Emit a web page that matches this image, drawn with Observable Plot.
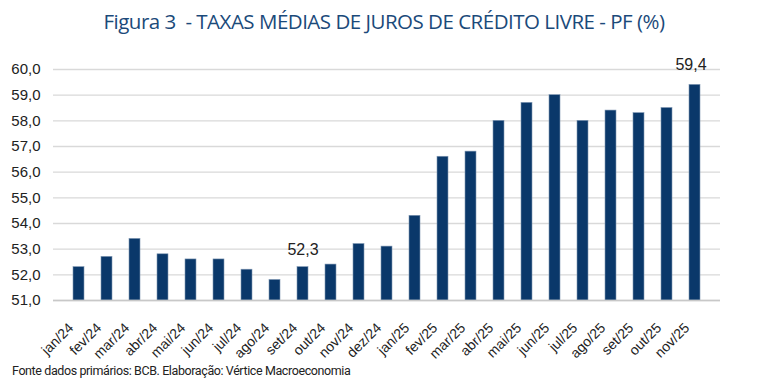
<!DOCTYPE html>
<html>
<head>
<meta charset="utf-8">
<script src="https://cdn.jsdelivr.net/npm/d3@7"></script>
<script src="https://cdn.jsdelivr.net/npm/@observablehq/plot@0.6"></script>
<style>
  html, body { margin: 0; padding: 0; background: #fff; }
  #wrap { width: 768px; height: 384px; position: relative; overflow: hidden; }
  #title { height: 48px; line-height: 42px; text-align: center; font-family: "Open Sans", "Noto Sans", sans-serif; font-size: 20.5px; color: #1b4a7a; letter-spacing: -0.5px; white-space: pre; }
  #caption { position: absolute; left: 12px; top: 363px; font-family: "Liberation Sans Narrow", "Roboto", sans-serif; font-size: 12.5px; color: #222; letter-spacing: -0.4px; }
  svg { display: block; overflow: visible; }
</style>
</head>
<body>
<div id="wrap">
  <div id="title">Figura 3  - TAXAS MÉDIAS DE JUROS DE CRÉDITO LIVRE - PF (%)</div>
  <div id="chart"></div>
  <div id="caption">Fonte dados primários: BCB. Elaboração: Vértice Macroeconomia</div>
</div>
<script>
const months = ["jan/24","fev/24","mar/24","abr/24","mai/24","jun/24","jul/24","ago/24","set/24","out/24","nov/24","dez/24",
                "jan/25","fev/25","mar/25","abr/25","mai/25","jun/25","jul/25","ago/25","set/25","out/25","nov/25"];
const values = [52.3,52.7,53.4,52.8,52.6,52.6,52.2,51.8,52.3,52.4,53.2,53.1,
                54.3,56.6,56.8,58.0,58.7,59.0,58.0,58.4,58.3,58.5,59.4];
const yTicks = [51,52,53,54,55,56,57,58,59,60];
const labelMonthsA = ["set/24"];
const labelMonthsB = ["nov/25"];

const data = months.map((m, i) => ({month: m, value: values[i]}));
const fmt = v => d3.format(".1f")(v).replace(".", ",");

const chart = Plot.plot({
  width: 768,
  height: 322,
  marginTop: 21,
  marginBottom: 70,
  marginLeft: 53,
  marginRight: 48,
  style: {fontFamily: "Liberation Sans, Arial, sans-serif", fontSize: "14px", color: "#222", overflow: "visible"},
  x: {domain: months, padding: 0.62, label: null},
  y: {domain: [51, 60], label: null},
  marks: [
    Plot.gridY(yTicks, {stroke: "#d9d9d9", strokeOpacity: 1, strokeWidth: 1.3}),
    Plot.barY(data, {x: "month", y1: 51, y2: "value", fill: "#0a386a", stroke: "#7f97b3", strokeWidth: 0.6}),
    Plot.ruleY([51], {stroke: "#c8c8c8", strokeWidth: 1.3}),
    Plot.axisY(yTicks, {tickSize: 0, tickPadding: 13, tickFormat: fmt, fontSize: 15, fill: "#222"}),
    Plot.axisX({tickSize: 0, tickRotate: -45, tickPadding: 13, dx: -8, dy: 12, fontSize: 14, fill: "#222"}),
    Plot.text(data.filter(d => labelMonthsA.includes(d.month)), {x: "month", y: "value", text: d => fmt(d.value), dy: -17, dx: 0, fontSize: 16, fill: "#222"}),
    Plot.text(data.filter(d => labelMonthsB.includes(d.month)), {x: "month", y: "value", text: d => fmt(d.value), dy: -20, dx: -4, fontSize: 16, fill: "#222"})
  ]
});
document.getElementById("chart").appendChild(chart);
</script>
</body>
</html>
